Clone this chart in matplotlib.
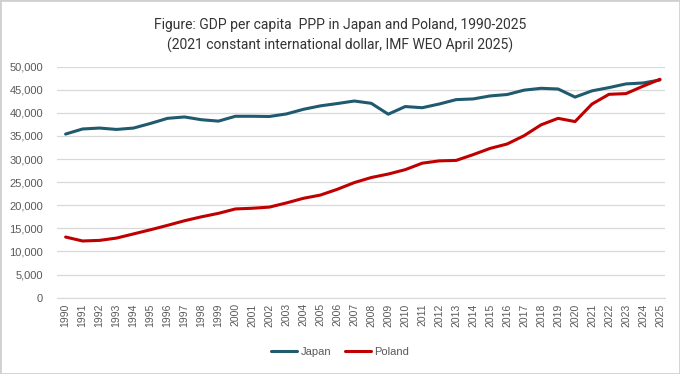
import matplotlib
matplotlib.use("Agg")
import matplotlib.pyplot as plt
from matplotlib.ticker import FuncFormatter, MultipleLocator
from matplotlib.patches import Rectangle

years = list(range(1990, 2026))
japan = [35400, 36500, 36700, 36400, 36700, 37700, 38800, 39100, 38500, 38200,
         39250, 39250, 39200, 39750, 40750, 41500, 42000, 42550, 42050, 39700,
         41350, 41100, 41900, 42850, 43000, 43650, 43950, 44900, 45300, 45150,
         43400, 44750, 45450, 46250, 46450, 47100]
poland = [13130, 12270, 12400, 12900, 13800, 14700, 15650, 16650, 17500, 18250,
          19200, 19350, 19600, 20500, 21500, 22200, 23450, 24900, 26000, 26750,
          27700, 29100, 29600, 29700, 30950, 32300, 33250, 35050, 37400, 38800,
          38100, 41900, 44000, 44150, 45750, 47250]
title = "Figure: GDP per capita  PPP in Japan and Poland, 1990-2025\n(2021 constant international dollar, IMF WEO April 2025)"

plt.rcParams['font.family'] = ['Liberation Sans', 'DejaVu Sans']

fig = plt.figure(figsize=(6.8, 3.74), dpi=100)
fig.patches.append(Rectangle((0, 0), 1, 1, transform=fig.transFigure,
                             fill=False, edgecolor='#d0d0d0', linewidth=2))
ax = fig.add_axes([0.084, 0.204, 0.894, 0.618])

ax.plot(years, japan, color='#1f5a6e', linewidth=2.2, label='Japan', solid_capstyle='round')
ax.plot(years, poland, color='#c00000', linewidth=2.2, label='Poland', solid_capstyle='round')

ax.set_xlim(1989.5, 2025.3)
ax.set_ylim(0, 50000)
ax.yaxis.set_major_locator(MultipleLocator(5000))
ax.yaxis.set_major_formatter(FuncFormatter(lambda v, p: f"{int(v):,}"))
ax.set_xticks(years)
ax.set_xticklabels([str(y) for y in years], rotation=90)
ax.tick_params(axis='both', length=0, colors='#595959', labelsize=8)
ax.tick_params(axis='x', labelsize=7.5, pad=4)
ax.tick_params(axis='y', pad=10)
ax.grid(axis='y', color='#d9d9d9', linewidth=0.9)
ax.set_axisbelow(True)
for s in ['top', 'right', 'left']:
    ax.spines[s].set_visible(False)
ax.spines['bottom'].set_color('#d9d9d9')

fig.text(0.5, 0.905, title, ha='center', va='center', fontsize=10,
         color='#333333', linespacing=1.4,
         family=['Roboto', 'Liberation Sans', 'DejaVu Sans'])

leg = fig.legend(loc='center', bbox_to_anchor=(0.5, 1 - 352 / 374), ncol=2,
                 frameon=False, fontsize=8, handlelength=2.4, columnspacing=1.2,
                 handletextpad=0.3, labelcolor='#595959')

fig.savefig('out.png', dpi=100)
